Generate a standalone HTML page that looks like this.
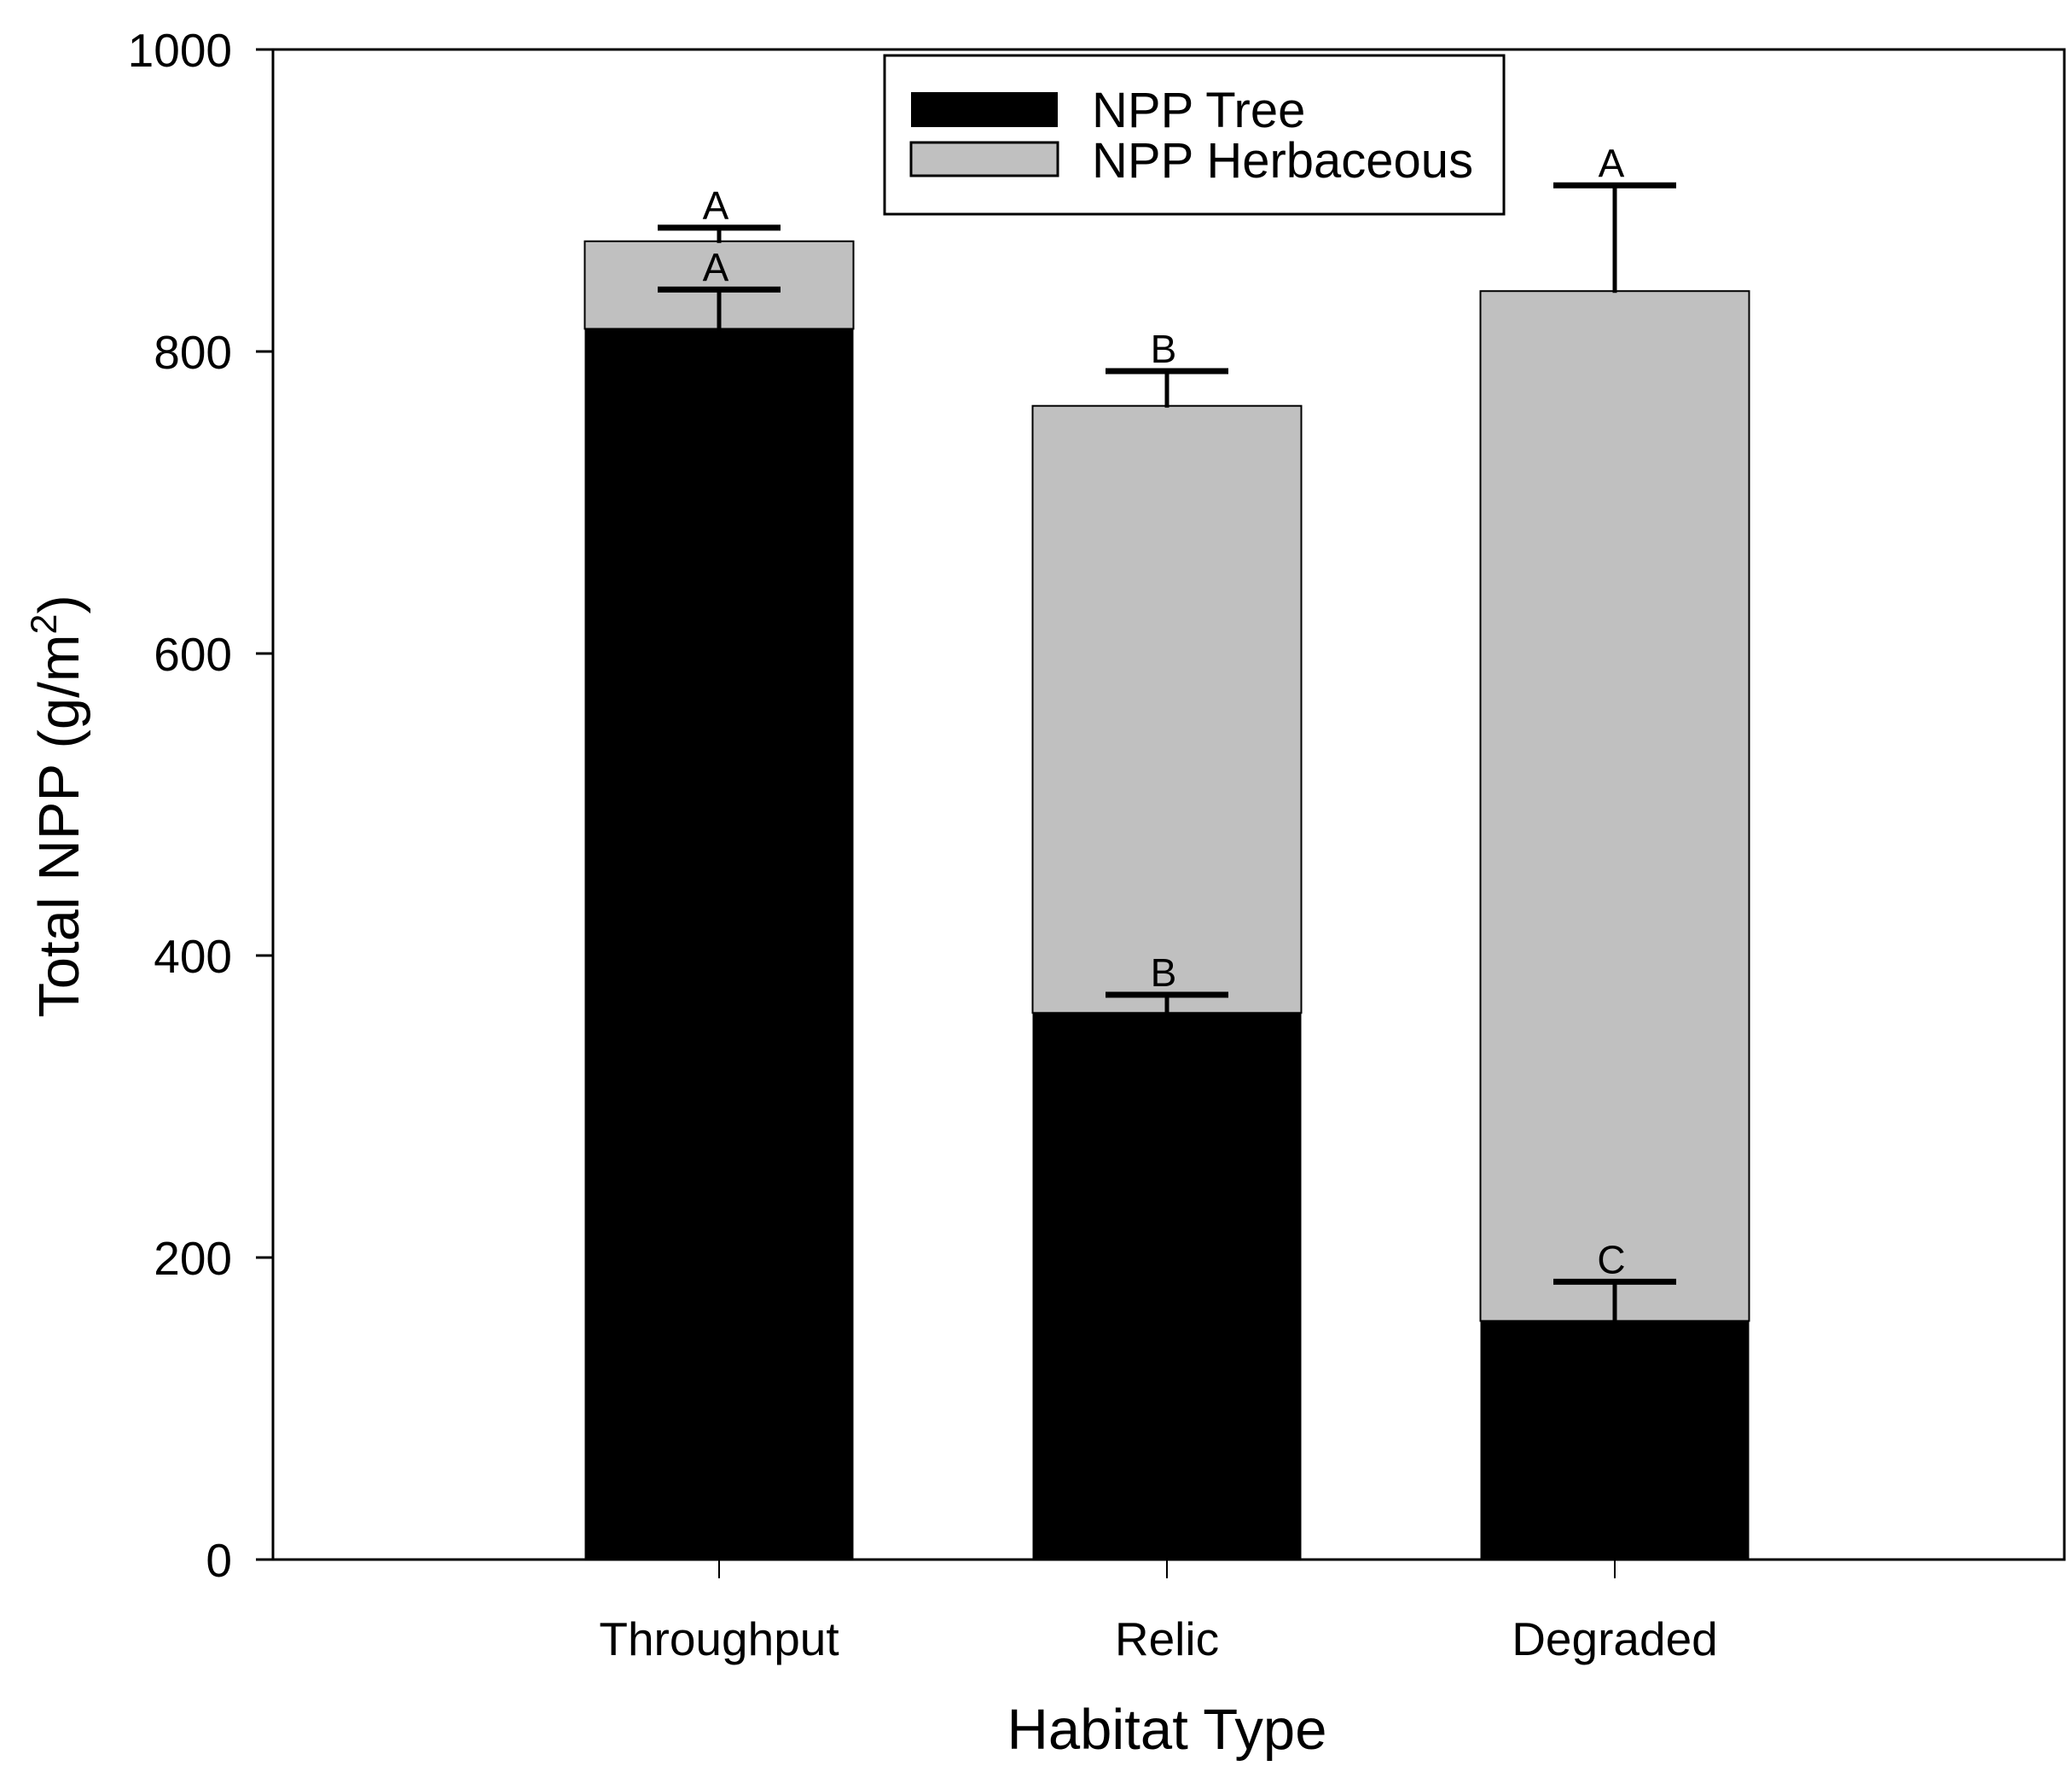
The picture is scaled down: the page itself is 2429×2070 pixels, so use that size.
<!DOCTYPE html>
<html><head><meta charset="utf-8"><style>
body{margin:0;background:#fff}
svg{display:block;font-family:"Liberation Sans",Arial,sans-serif}
</style></head><body>
<svg id="chart" width="2429" height="2070" viewBox="0 0 2429 2070" xmlns="http://www.w3.org/2000/svg">
<g id="marks"></g>
<rect x="320" y="58" width="2100" height="1770" fill="none" stroke="#000" stroke-width="3"/>
<g id="axes"></g>
<g>
<rect x="1037" y="65" width="726" height="186" fill="#fff" stroke="#000" stroke-width="3"/>
<rect x="1068" y="108" width="172" height="41" fill="#000"/>
<text x="1280" y="149" font-size="58">NPP Tree</text>
<rect x="1068" y="167" width="172" height="39" fill="#c0c0c0" stroke="#000" stroke-width="3"/>
<text x="1280" y="208" font-size="58">NPP Herbaceous</text>
</g>
<text x="1368" y="2050" font-size="67" text-anchor="middle">Habitat Type</text>
<text transform="translate(92,945) rotate(-90)" font-size="67" text-anchor="middle">Total NPP (g/m<tspan font-size="43" dy="-26">2</tspan><tspan dy="26">)</tspan></text>
</svg>
<script>
const categories=["Throughput","Relic","Degraded"];
const treeValues=[815,362,158];
const treeErrors=[26,12,26];
const herbValues=[58,402,682];
const herbErrors=[9,23,70];
const treeLetters=["A","B","C"];
const herbLetters=["A","B","A"];
const yTicks=[0,200,400,600,800,1000];

const NS="http://www.w3.org/2000/svg";
const x0=320,x1=2420,yTop=58,yBot=1828;
const y=v=>yBot-(v/1000)*(yBot-yTop);
const xc=i=>843+i*525;
const barW=315,capW=144;
const marks=document.getElementById('marks'),axes=document.getElementById('axes');
function mk(tag,attrs,parent){const e=document.createElementNS(NS,tag);for(const k in attrs)e.setAttribute(k,attrs[k]);parent.appendChild(e);return e;}
categories.forEach((c,i)=>{
  const cx=xc(i),t=treeValues[i],h=herbValues[i];
  const r1=mk('rect',{x:cx-barW/2,y:y(t),width:barW,height:y(0)-y(t),fill:'#000'},marks);
  
  
  const r2=mk('rect',{x:cx-barW/2,y:y(t+h),width:barW,height:y(t)-y(t+h),fill:'#c0c0c0',stroke:'#000','stroke-width':2},marks);
  
  
  [[t,treeErrors[i],treeLetters[i],'tree'],[t+h,herbErrors[i],herbLetters[i],'herbaceous']].forEach(([v,e,l,s])=>{
    const g=mk('g',{},marks);
    
    
    mk('line',{x1:cx,x2:cx,y1:y(v)+2,y2:y(v+e),stroke:'#000','stroke-width':5},g);
    mk('line',{x1:cx-capW/2,x2:cx+capW/2,y1:y(v+e),y2:y(v+e),stroke:'#000','stroke-width':7},g);
    const tx=mk('text',{x:cx-4,y:y(v+e)-10,'font-size':46,'text-anchor':'middle'},g);
    
    
    tx.textContent=l;
  });
  const tk=mk('line',{x1:cx,x2:cx,y1:yBot,y2:yBot+22,stroke:'#000','stroke-width':2},axes);
  
  
  const lb=mk('text',{x:cx,y:1940,'font-size':55,'text-anchor':'middle'},axes);
  
  
  lb.textContent=c;
});
yTicks.forEach(v=>{
  const tk=mk('line',{x1:x0-20,x2:x0,y1:y(v),y2:y(v),stroke:'#000','stroke-width':3},axes);
  
  
  const lb=mk('text',{x:272,y:y(v)+20,'font-size':55,'text-anchor':'end'},axes);
  
  
  lb.textContent=v;
});
</script>
</body></html>
